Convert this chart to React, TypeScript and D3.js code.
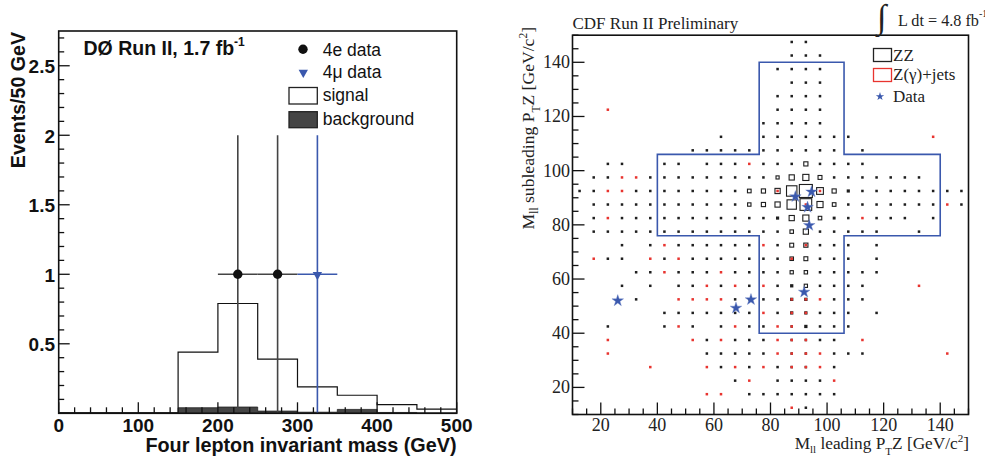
import React from 'react';
import * as d3 from 'd3';

// ---------- Left panel (DØ) data ----------
const massEdges = [0, 50, 100, 150, 200, 250, 300, 350, 400, 450, 500];
const signalExp = [0.002, 0.002, 0.002, 0.4, 0.745, 0.374, 0.182, 0.102, 0.056, 0.027];
const backgroundExp = [0.002, 0.002, 0.002, 0.04, 0.045, 0.016, 0.008, 0.028, 0.006, 0.003];
const e4Mass = [225, 275];
const e4Count = [1, 1];
const e4ErrLow = [1, 1];
const e4ErrHigh = [1, 1];
const mu4Mass = [325];
const mu4Count = [1];
const mu4ErrLow = [1];
const mu4ErrHigh = [1];
const binHalfWidth = 25;
const leftYTicks = [0.5, 1, 1.5, 2, 2.5];
const leftXTicks = [0, 100, 200, 300, 400, 500];

// ---------- Right panel (CDF) data ----------
const rightTicks = [20, 40, 60, 80, 100, 120, 140];
const dotContent = 0.17;
// ZZ cells: [y bin centre, x bin centres]
const zzRows: [number, number[]][] = [
  [147.5, [87.5, 92.5]],
  [142.5, [87.5, 92.5, 97.5]],
  [137.5, [82.5, 87.5, 92.5, 97.5]],
  [132.5, [87.5, 92.5, 97.5]],
  [127.5, [82.5, 87.5, 92.5, 97.5]],
  [122.5, [82.5, 87.5, 92.5, 97.5]],
  [117.5, [77.5, 82.5, 87.5, 92.5, 97.5]],
  [112.5, [62.5, 77.5, 82.5, 87.5, 92.5, 97.5, 102.5, 107.5]],
  [107.5, [52.5, 57.5, 62.5, 67.5, 72.5, 77.5, 82.5, 87.5, 92.5, 97.5, 102.5, 112.5]],
  [102.5, [22.5, 27.5, 42.5, 47.5, 57.5, 62.5, 67.5, 77.5, 82.5, 87.5, 92.5, 97.5, 102.5, 107.5, 112.5]],
  [97.5, [17.5, 22.5, 37.5, 42.5, 47.5, 52.5, 57.5, 62.5, 67.5, 72.5, 77.5, 82.5, 87.5, 92.5, 97.5, 102.5, 107.5, 112.5, 117.5, 122.5, 127.5, 132.5]],
  [92.5, [12.5, 17.5, 32.5, 37.5, 42.5, 47.5, 52.5, 57.5, 62.5, 67.5, 72.5, 77.5, 82.5, 87.5, 92.5, 97.5, 102.5, 107.5, 112.5, 117.5, 122.5, 127.5, 132.5, 137.5, 142.5, 147.5]],
  [87.5, [17.5, 22.5, 27.5, 32.5, 37.5, 42.5, 47.5, 52.5, 57.5, 62.5, 67.5, 72.5, 77.5, 82.5, 87.5, 92.5, 97.5, 102.5, 107.5, 112.5, 117.5, 122.5, 127.5, 132.5, 137.5, 147.5]],
  [82.5, [17.5, 27.5, 32.5, 37.5, 42.5, 47.5, 52.5, 57.5, 62.5, 67.5, 72.5, 77.5, 82.5, 87.5, 92.5, 97.5, 102.5, 107.5, 117.5, 122.5, 127.5, 137.5]],
  [77.5, [17.5, 22.5, 27.5, 32.5, 37.5, 42.5, 47.5, 52.5, 57.5, 62.5, 67.5, 72.5, 77.5, 82.5, 87.5, 92.5, 97.5, 102.5, 107.5, 112.5, 117.5, 132.5]],
  [72.5, [27.5, 37.5, 47.5, 52.5, 57.5, 62.5, 67.5, 72.5, 82.5, 87.5, 92.5, 97.5, 102.5, 107.5, 117.5]],
  [67.5, [22.5, 27.5, 42.5, 52.5, 57.5, 62.5, 67.5, 72.5, 77.5, 82.5, 87.5, 92.5, 97.5, 102.5, 107.5, 117.5]],
  [62.5, [32.5, 37.5, 47.5, 52.5, 57.5, 67.5, 72.5, 77.5, 82.5, 87.5, 92.5, 97.5, 102.5, 107.5, 112.5, 117.5]],
  [57.5, [27.5, 37.5, 47.5, 52.5, 62.5, 72.5, 82.5, 87.5, 92.5, 97.5, 102.5, 107.5, 112.5]],
  [52.5, [32.5, 67.5, 72.5, 77.5, 82.5, 87.5, 92.5, 102.5, 107.5, 112.5]],
  [47.5, [42.5, 47.5, 52.5, 57.5, 62.5, 67.5, 72.5, 82.5, 87.5, 92.5, 97.5, 102.5, 107.5, 117.5]],
  [42.5, [22.5, 42.5, 52.5, 62.5, 72.5, 77.5, 87.5, 92.5, 97.5, 102.5, 107.5]],
  [37.5, [57.5, 67.5, 72.5, 77.5, 87.5, 92.5, 97.5, 102.5]],
  [32.5, [57.5, 62.5, 67.5, 72.5, 77.5, 87.5, 92.5, 102.5, 107.5, 112.5]],
  [27.5, [62.5, 72.5, 82.5, 87.5, 92.5, 102.5]],
  [22.5, [67.5, 82.5, 87.5, 92.5, 97.5]],
  [17.5, [72.5, 77.5, 82.5, 87.5, 92.5, 97.5, 102.5]],
  [12.5, [92.5]],
];
// ZZ cells with larger content: [x, y, content]
const zzLarge: [number, number, number][] = [
  [87.5, 92.5, 0.8], [92.5, 92.5, 1.0], [87.5, 87.5, 0.72], [92.5, 87.5, 0.9],
  [97.5, 92.5, 0.52], [97.5, 87.5, 0.47], [82.5, 92.5, 0.4], [82.5, 87.5, 0.4],
  [87.5, 97.5, 0.4], [92.5, 97.5, 0.47], [97.5, 97.5, 0.3], [92.5, 102.5, 0.32],
  [87.5, 82.5, 0.4], [92.5, 82.5, 0.47], [92.5, 77.5, 0.4], [87.5, 77.5, 0.27],
  [77.5, 92.5, 0.32], [77.5, 87.5, 0.32], [72.5, 92.5, 0.28], [72.5, 87.5, 0.26],
  [102.5, 92.5, 0.32], [102.5, 87.5, 0.28], [107.5, 92.5, 0.22], [82.5, 97.5, 0.24],
  [97.5, 82.5, 0.27], [82.5, 82.5, 0.22], [102.5, 82.5, 0.2], [87.5, 72.5, 0.3],
  [92.5, 72.5, 0.32], [87.5, 67.5, 0.27], [92.5, 67.5, 0.3], [87.5, 62.5, 0.25],
  [92.5, 62.5, 0.26], [87.5, 57.5, 0.23], [92.5, 57.5, 0.25], [87.5, 52.5, 0.23],
  [92.5, 52.5, 0.23], [87.5, 47.5, 0.23], [92.5, 47.5, 0.23], [92.5, 42.5, 0.23],
];
// Z(γ)+jets cells: [y bin centre, x bin centres]
const zjRows: [number, number[]][] = [
  [122.5, [22.5]],
  [112.5, [137.5]],
  [102.5, [72.5]],
  [97.5, [27.5, 32.5]],
  [92.5, [22.5, 27.5, 82.5, 97.5]],
  [87.5, [92.5, 142.5]],
  [82.5, [22.5, 112.5]],
  [72.5, [42.5, 77.5, 92.5]],
  [67.5, [17.5, 37.5, 47.5, 87.5]],
  [62.5, [42.5, 62.5]],
  [57.5, [57.5, 67.5, 77.5, 132.5]],
  [52.5, [47.5, 52.5, 57.5, 62.5, 87.5, 92.5, 97.5]],
  [47.5, [77.5, 87.5, 92.5]],
  [42.5, [47.5, 67.5, 82.5, 87.5]],
  [37.5, [22.5, 52.5, 62.5, 82.5, 87.5, 92.5, 112.5]],
  [32.5, [22.5, 82.5, 87.5, 92.5, 97.5, 142.5]],
  [27.5, [37.5, 57.5, 67.5, 77.5, 87.5, 92.5, 97.5]],
  [22.5, [72.5, 102.5]],
  [17.5, [57.5, 62.5]],
  [12.5, [87.5]],
];
const starX = [26, 67.8, 73.1, 91.9, 88.8, 94.5, 93.1, 93.7];
const starY = [52, 49.3, 52.4, 55.2, 90.4, 92.2, 86.5, 79.8];
// Signal region cross outline
const crossX = [76, 106, 106, 140, 140, 106, 106, 76, 76, 40, 40, 76];
const crossY = [140, 140, 106, 106, 76, 76, 40, 40, 76, 76, 106, 106];

const SANS = "'Liberation Sans', Arial, Helvetica, sans-serif";
const SERIF = "'Liberation Serif', 'Times New Roman', serif";
const BLUE = '#3a58ad';
const RED = '#e8342f';

export default function App() {
  // Left scales
  const lx = d3.scaleLinear().domain([0, 500]).range([58.7, 456.7]);
  const ly = d3.scaleLinear().domain([0, 2.75]).range([413.3, 31]);
  const total = signalExp.map((s, i) => s + backgroundExp[i]);
  const nb = total.length;
  const stepPts = (vals: number[]) => massEdges.map((e, i) => [e, vals[Math.min(i, nb - 1)]] as [number, number]);
  const lineGen = d3.line<[number, number]>().x((d) => lx(d[0])).y((d) => ly(d[1])).curve(d3.curveStepAfter);
  const areaGen = d3.area<[number, number]>().x((d) => lx(d[0])).y0(ly(0)).y1((d) => ly(d[1])).curve(d3.curveStepAfter);
  const totalLine = lineGen(stepPts(total)) || '';
  const totalArea = areaGen(stepPts(total)) || '';
  const bkgArea = areaGen(stepPts(backgroundExp)) || '';

  const lyMinor = d3.range(0, 2.75, 0.1);
  const lxMinor = d3.range(0, 501, 20);

  const triDown = d3.symbol().type(d3.symbolTriangle).size(38)() || '';

  // Right scales
  const rx = d3.scaleLinear().domain([10, 150]).range([572.5, 968.5]);
  const ry = d3.scaleLinear().domain([10, 150]).range([414.5, 35.2]);
  const side = d3.scaleLinear().domain([0, 1]).range([0, 13]);
  const rMinor = d3.range(10, 151, 5);

  const largeMap = new Map<string, number>();
  zzLarge.forEach(([x, y, c]) => largeMap.set(`${x},${y}`, c));
  const zzCells: [number, number, number][] = [];
  zzRows.forEach(([y, xs]) => xs.forEach((x) => zzCells.push([x, y, largeMap.get(`${x},${y}`) ?? dotContent])));
  zzLarge.forEach(([x, y, c]) => {
    if (!zzCells.find((d) => d[0] === x && d[1] === y)) zzCells.push([x, y, c]);
  });
  const zjCells: [number, number, number][] = [];
  zjRows.forEach(([y, xs]) => xs.forEach((x) => zjCells.push([x, y, dotContent])));

  const crossPath =
    crossX.map((x, i) => `${i === 0 ? 'M' : 'L'}${rx(x)},${ry(crossY[i])}`).join('') + 'Z';
  const star = d3.symbol().type(d3.symbolStar).size(42)() || '';
  const starSmall = d3.symbol().type(d3.symbolStar).size(22)() || '';

  const drawCell = (d: [number, number, number], color: string, key: string) => {
    const s = side(d[2]);
    const cx = rx(d[0]);
    const cy = ry(d[1]);
    if (s < 3) {
      const ss = s + 0.3;
      return <rect key={key} x={cx - ss / 2} y={cy - ss / 2} width={ss} height={ss} fill={color} />;
    }
    return (
      <rect key={key} x={cx - s / 2} y={cy - s / 2} width={s} height={s} fill="none" stroke={color} strokeWidth={1.1} />
    );
  };

  return (
    <svg width={985} height={464} style={{ position: 'absolute', left: 0, top: 0, background: '#fff' }}>
      <rect x={0} y={0} width={985} height={464} fill="#fff" />
      {/* ================= LEFT PANEL ================= */}
      <g>
        <path d={totalArea} fill="#fff" />
        <path d={bkgArea} fill="#454545" stroke="#222" strokeWidth={0.8} />
        <path d={totalLine} fill="none" stroke="#111" strokeWidth={1.2} />
        {/* error bars 4e */}
        {e4Mass.map((m, i) => (
          <g key={`e${i}`} stroke="#444" strokeWidth={1.6}>
            <line x1={lx(m)} x2={lx(m)} y1={ly(e4Count[i] - e4ErrLow[i])} y2={ly(e4Count[i] + e4ErrHigh[i])} />
            <line x1={lx(m - binHalfWidth)} x2={lx(m + binHalfWidth)} y1={ly(e4Count[i])} y2={ly(e4Count[i])} />
          </g>
        ))}
        {mu4Mass.map((m, i) => (
          <g key={`m${i}`} stroke={BLUE} strokeWidth={1.6}>
            <line x1={lx(m)} x2={lx(m)} y1={ly(mu4Count[i] - mu4ErrLow[i])} y2={ly(mu4Count[i] + mu4ErrHigh[i])} />
            <line x1={lx(m - binHalfWidth)} x2={lx(m + binHalfWidth)} y1={ly(mu4Count[i])} y2={ly(mu4Count[i])} />
          </g>
        ))}
        {e4Mass.map((m, i) => (
          <circle key={`ec${i}`} cx={lx(m)} cy={ly(e4Count[i])} r={4.7} fill="#111" />
        ))}
        {mu4Mass.map((m, i) => (
          <path key={`mt${i}`} d={triDown} transform={`translate(${lx(m)},${ly(mu4Count[i]) + 0.5}) rotate(180)`} fill={BLUE} />
        ))}
        {/* ticks */}
        {lyMinor.map((v, i) => {
          const major = Math.abs(v * 2 - Math.round(v * 2)) < 1e-6;
          return <line key={`ly${i}`} x1={lx(0)} x2={lx(0) + (major ? 11 : 5.5)} y1={ly(v)} y2={ly(v)} stroke="#111" strokeWidth={1.3} />;
        })}
        {lxMinor.map((v, i) => {
          const major = v % 100 === 0;
          return <line key={`lx${i}`} x1={lx(v)} x2={lx(v)} y1={ly(0)} y2={ly(0) - (major ? 11 : 6)} stroke="#111" strokeWidth={1.3} />;
        })}
        <rect x={lx(0)} y={ly(2.75)} width={lx(500) - lx(0)} height={ly(0) - ly(2.75)} fill="none" stroke="#111" strokeWidth={1.6} />
        {/* tick labels */}
        {leftYTicks.map((v) => (
          <text key={`lyt${v}`} x={55} y={ly(v) + 7.5} textAnchor="end" fontFamily={SANS} fontWeight="bold" fontSize={19} fill="#111">
            {String(v)}
          </text>
        ))}
        {leftXTicks.map((v) => (
          <text key={`lxt${v}`} x={lx(v)} y={432} textAnchor="middle" fontFamily={SANS} fontWeight="bold" fontSize={19} fill="#111">
            {String(v)}
          </text>
        ))}
        <text x={456.5} y={452} textAnchor="end" fontFamily={SANS} fontWeight="bold" fontSize={19.8} fill="#111">
          Four lepton invariant mass (GeV)
        </text>
        <text transform="translate(24.5,32) rotate(-90)" textAnchor="end" fontFamily={SANS} fontWeight="bold" fontSize={19.6} fill="#111">
          Events/50 GeV
        </text>
        <text x={83.5} y={55} fontFamily={SANS} fontWeight="bold" fontSize={19.5} fill="#111">
          DØ Run II, 1.7 fb<tspan dy={-9} fontSize={12}>-1</tspan>
        </text>
        {/* legend */}
        <circle cx={303} cy={49.3} r={4.7} fill="#111" />
        <text x={322.7} y={55.5} fontFamily={SANS} fontSize={17.5} fill="#111">4e data</text>
        <path d={triDown} transform="translate(303.3,72.5) rotate(180)" fill={BLUE} />
        <text x={322.7} y={77.5} fontFamily={SANS} fontSize={17.5} fill="#111">4μ data</text>
        <rect x={289} y={87.5} width={28.3} height={16.5} fill="#fff" stroke="#222" strokeWidth={1.3} />
        <text x={322.7} y={100.5} fontFamily={SANS} fontSize={17.5} fill="#111">signal</text>
        <rect x={289} y={111.7} width={28.3} height={16} fill="#454545" stroke="#222" strokeWidth={1.3} />
        <text x={322.7} y={124.5} fontFamily={SANS} fontSize={17.5} fill="#111">background</text>
      </g>

      {/* ================= RIGHT PANEL ================= */}
      <g>
        {zzCells.map((d, i) => drawCell(d, '#1e1e1e', `zz${i}`))}
        {zjCells.map((d, i) => drawCell(d, RED, `zj${i}`))}
        <path d={crossPath} fill="none" stroke={BLUE} strokeWidth={1.6} />
        {starX.map((x, i) => (
          <path key={`st${i}`} d={star} transform={`translate(${rx(x)},${ry(starY[i])})`} fill={BLUE} stroke="#6f86c8" strokeWidth={0.4} />
        ))}
        {/* ticks */}
        {rMinor.map((v, i) => {
          const major = v % 20 === 0 && v > 10 && v < 150;
          return (
            <g key={`rt${i}`} stroke="#111" strokeWidth={1.3}>
              <line x1={rx(10)} x2={rx(10) + (major ? 12 : 6)} y1={ry(v)} y2={ry(v)} />
              <line x1={rx(v)} x2={rx(v)} y1={ry(10)} y2={ry(10) - (major ? 12 : 6)} />
            </g>
          );
        })}
        <rect x={rx(10)} y={ry(150)} width={rx(150) - rx(10)} height={ry(10) - ry(150)} fill="none" stroke="#111" strokeWidth={1.6} />
        {rightTicks.map((v) => (
          <text key={`ryt${v}`} x={570} y={ry(v) + 6} textAnchor="end" fontFamily={SERIF} fontSize={18} fill="#222">
            {String(v)}
          </text>
        ))}
        {rightTicks.map((v) => (
          <text key={`rxt${v}`} x={rx(v)} y={431} textAnchor="middle" fontFamily={SERIF} fontSize={18} fill="#222">
            {String(v)}
          </text>
        ))}
        <text x={969} y={449} textAnchor="end" fontFamily={SERIF} fontSize={17.3} fill="#222">
          M<tspan dy={4} fontSize={11}>ll</tspan>
          <tspan dy={-4}> leading P</tspan>
          <tspan dy={6} fontSize={11}>T</tspan>
          <tspan dy={-6}>Z [GeV/c</tspan>
          <tspan dy={-7} fontSize={11}>2</tspan>
          <tspan dy={7}>]</tspan>
        </text>
        <text transform="translate(534,27) rotate(-90)" textAnchor="end" fontFamily={SERIF} fontSize={17.6} fill="#222">
          M<tspan dy={4} fontSize={11.5}>ll</tspan>
          <tspan dy={-4}> subleading P</tspan>
          <tspan dy={6} fontSize={11.5}>T</tspan>
          <tspan dy={-6}>Z [GeV/c</tspan>
          <tspan dy={-7} fontSize={11.5}>2</tspan>
          <tspan dy={7}>]</tspan>
        </text>
        <text x={572.5} y={29} fontFamily={SERIF} fontSize={17} fill="#222">CDF Run II Preliminary</text>
        <text x={877} y={28} fontFamily={SERIF} fontSize={34} fill="#222">∫</text>
        <text x={898} y={26} fontFamily={SERIF} fontSize={16.2} fill="#222">
          L dt = 4.8 fb<tspan dy={-9} fontSize={10}>-1</tspan>
        </text>
        {/* legend */}
        <rect x={873.5} y={48.5} width={18} height={13} fill="#fff" stroke="#222" strokeWidth={1.3} />
        <text x={893} y={60.5} fontFamily={SERIF} fontSize={17} fill="#222">ZZ</text>
        <rect x={873.5} y={68.5} width={18} height={13} fill="#fff" stroke={RED} strokeWidth={1.3} />
        <text x={893} y={80} fontFamily={SERIF} fontSize={17} fill="#222">Z(γ)+jets</text>
        <path d={starSmall} transform="translate(880,96.5)" fill={BLUE} />
        <text x={893} y={101.5} fontFamily={SERIF} fontSize={17} fill="#222">Data</text>
      </g>
    </svg>
  );
}
